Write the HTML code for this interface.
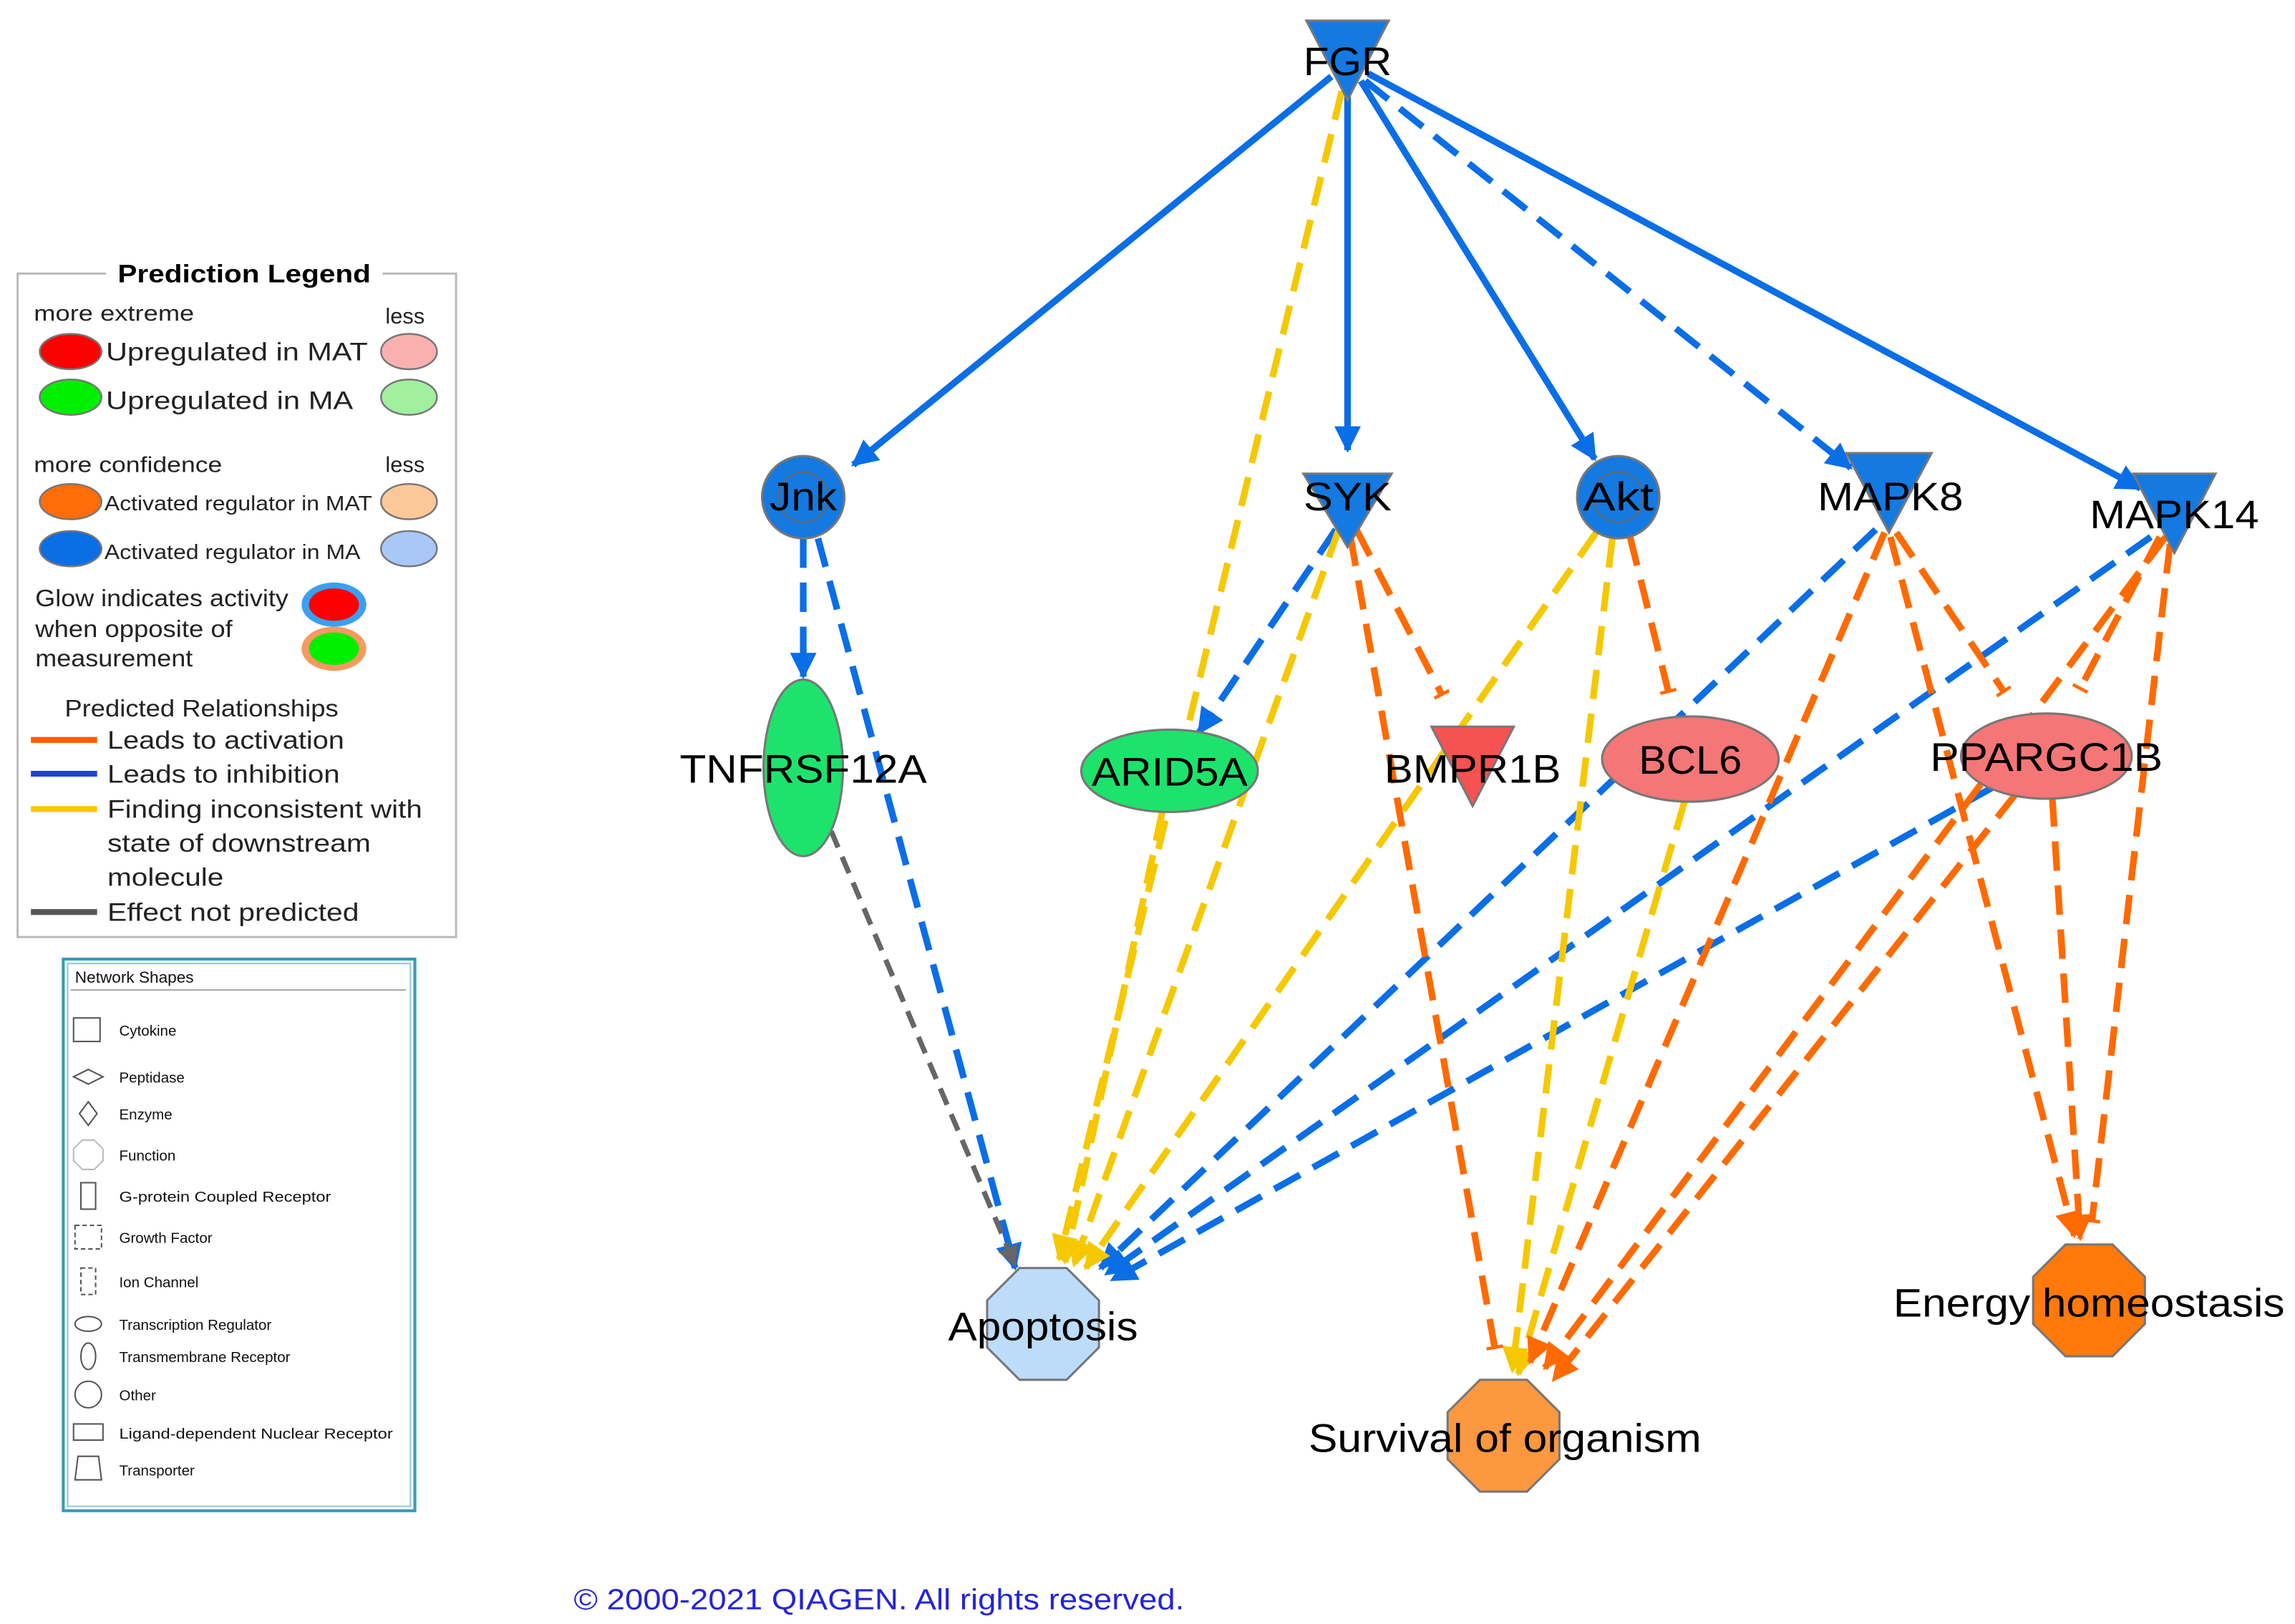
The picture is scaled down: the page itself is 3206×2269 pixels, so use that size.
<!DOCTYPE html>
<html><head><meta charset="utf-8"><style>
html,body{margin:0;padding:0;background:#fff;}
svg{display:block;}
text{font-family:"Liberation Sans",sans-serif;}
</style></head><body>
<svg width="3206" height="2269" viewBox="0 0 1560 1104" preserveAspectRatio="none" xmlns="http://www.w3.org/2000/svg">
<defs>
<marker id="ab" viewBox="0 0 10 10" refX="9" refY="5" markerWidth="4.5" markerHeight="4" orient="auto" markerUnits="strokeWidth"><path d="M0,0L10,5L0,10z" fill="#0a6ee6"/></marker>
<marker id="ao" viewBox="0 0 10 10" refX="9" refY="5" markerWidth="4.5" markerHeight="4" orient="auto" markerUnits="strokeWidth"><path d="M0,0L10,5L0,10z" fill="#ff6a00"/></marker>
<marker id="ay" viewBox="0 0 10 10" refX="9" refY="5" markerWidth="4.5" markerHeight="4" orient="auto" markerUnits="strokeWidth"><path d="M0,0L10,5L0,10z" fill="#f5c800"/></marker>
<marker id="ag" viewBox="0 0 10 10" refX="9" refY="5" markerWidth="4.5" markerHeight="4" orient="auto" markerUnits="strokeWidth"><path d="M0,0L10,5L0,10z" fill="#666"/></marker>
<marker id="to" viewBox="0 0 4 10" refX="2" refY="5" markerWidth="1" markerHeight="4.5" orient="auto" markerUnits="strokeWidth"><path d="M2,0V10" stroke="#ff6a00" stroke-width="2"/></marker>
</defs>

<g fill="none" stroke-width="4.5">
<line x1="905" y1="52" x2="580" y2="316" stroke="#0a6ee6" marker-end="url(#ab)"/>
<line x1="916" y1="55" x2="916" y2="306" stroke="#0a6ee6" marker-end="url(#ab)"/>
<line x1="925" y1="55" x2="1084" y2="312" stroke="#0a6ee6" marker-end="url(#ab)"/>
<line x1="930" y1="50" x2="1455" y2="332" stroke="#0a6ee6" marker-end="url(#ab)"/>
<g stroke="#0a6ee6" stroke-dasharray="20,10">
<line x1="928" y1="55" x2="1258" y2="318" marker-end="url(#ab)"/>
<line x1="546" y1="366" x2="546" y2="460" marker-end="url(#ab)"/>
<line x1="556" y1="366" x2="690" y2="862" marker-end="url(#ab)"/>
<line x1="908" y1="360" x2="815" y2="498" marker-end="url(#ab)"/>
<line x1="1275" y1="360" x2="748" y2="862" marker-end="url(#ab)"/>
<line x1="1462" y1="365" x2="752" y2="866" marker-end="url(#ab)"/>
<line x1="1355" y1="535" x2="756" y2="870" marker-end="url(#ab)"/>
</g>
<line x1="565" y1="565" x2="690" y2="860" stroke="#666" stroke-dasharray="12,7" stroke-width="3.5" marker-end="url(#ag)"/>
<g stroke="#f5c800" stroke-dasharray="20,10">
<line x1="912" y1="62" x2="720" y2="856" marker-end="url(#ay)"/>
<line x1="910" y1="360" x2="730" y2="860" marker-end="url(#ay)"/>
<line x1="790" y1="552" x2="724" y2="858" marker-end="url(#ay)"/>
<line x1="1085" y1="362" x2="738" y2="862" marker-end="url(#ay)"/>
<line x1="1096" y1="366" x2="1028" y2="932" marker-end="url(#ay)"/>
<line x1="1145" y1="545" x2="1032" y2="934" marker-end="url(#ay)"/>
</g>
<g stroke="#ff6a00" stroke-dasharray="20,10">
<line x1="922" y1="360" x2="980" y2="472" marker-end="url(#to)"/>
<line x1="918" y1="365" x2="1016" y2="916" marker-end="url(#to)"/>
<line x1="1108" y1="365" x2="1134" y2="470" marker-end="url(#to)"/>
<line x1="1289" y1="362" x2="1362" y2="470" marker-end="url(#to)"/>
<line x1="1468" y1="365" x2="1414" y2="468" marker-end="url(#to)"/>
<line x1="1281" y1="362" x2="1040" y2="926" marker-end="url(#ao)"/>
<line x1="1285" y1="365" x2="1410" y2="840" marker-end="url(#ao)"/>
<line x1="1472" y1="365" x2="1050" y2="930" marker-end="url(#ao)"/>
<line x1="1475" y1="370" x2="1422" y2="830" marker-end="url(#to)"/>
<line x1="1370" y1="540" x2="1056" y2="938" marker-end="url(#ao)"/>
<line x1="1395" y1="542" x2="1414" y2="842" marker-end="url(#ao)"/>
</g>
</g>

<g stroke="#777" stroke-width="1.5">
<polygon points="888,14 944,14 916,68" fill="#1479e0"/>
<circle cx="546" cy="338" r="28" fill="#1479e0"/>
<circle cx="546" cy="338" r="17" fill="none" stroke="#666" stroke-width="1"/>
<polygon points="886,322 946,322 916,372" fill="#1479e0"/>
<circle cx="1100" cy="338" r="28" fill="#1479e0"/>
<circle cx="1100" cy="338" r="17" fill="none" stroke="#666" stroke-width="1"/>
<polygon points="1255,308 1313,308 1284,362" fill="#1479e0"/>
<polygon points="1450,322 1506,322 1478,376" fill="#1479e0"/>
<ellipse cx="546" cy="522" rx="27" ry="60" fill="#1de36c"/>
<ellipse cx="795" cy="524" rx="60" ry="28" fill="#1de36c"/>
<polygon points="973,494 1029,494 1001,548" fill="#f55252"/>
<ellipse cx="1149" cy="516" rx="60" ry="29" fill="#f57676"/>
<ellipse cx="1391" cy="514" rx="58" ry="29" fill="#f57676"/>
<polygon points="693,862 725,862 747,884 747,916 725,938 693,938 671,916 671,884" fill="#bcdcfa"/>
<polygon points="1006,938 1038,938 1060,960 1060,992 1038,1014 1006,1014 984,992 984,960" fill="#fb9840"/>
<polygon points="1404,846 1436,846 1458,868 1458,900 1436,922 1404,922 1382,900 1382,868" fill="#ff7a0a"/>
</g>
<g font-size="27" fill="#000" text-anchor="middle" lengthAdjust="spacingAndGlyphs">
<text x="916" y="51" textLength="60" lengthAdjust="spacingAndGlyphs">FGR</text>
<text x="546" y="347" textLength="46" lengthAdjust="spacingAndGlyphs">Jnk</text>
<text x="916" y="347" textLength="60" lengthAdjust="spacingAndGlyphs">SYK</text>
<text x="1100" y="347" textLength="48" lengthAdjust="spacingAndGlyphs">Akt</text>
<text x="1285" y="347" textLength="99" lengthAdjust="spacingAndGlyphs">MAPK8</text>
<text x="1478" y="359" textLength="115" lengthAdjust="spacingAndGlyphs">MAPK14</text>
<text x="546" y="532" textLength="168" lengthAdjust="spacingAndGlyphs">TNFRSF12A</text>
<text x="795" y="534" textLength="106" lengthAdjust="spacingAndGlyphs">ARID5A</text>
<text x="1001" y="532" textLength="120" lengthAdjust="spacingAndGlyphs">BMPR1B</text>
<text x="1149" y="526" textLength="70" lengthAdjust="spacingAndGlyphs">BCL6</text>
<text x="1391" y="524" textLength="158" lengthAdjust="spacingAndGlyphs">PPARGC1B</text>
<text x="709" y="911" textLength="129" lengthAdjust="spacingAndGlyphs">Apoptosis</text>
<text x="1023" y="987" textLength="267" lengthAdjust="spacingAndGlyphs">Survival of organism</text>
<text x="1420" y="895" textLength="266" lengthAdjust="spacingAndGlyphs">Energy homeostasis</text>
</g>

<rect x="12" y="186" width="298" height="451" fill="#fff" stroke="#bbb" stroke-width="1.5"/>
<rect x="72" y="176" width="188" height="20" fill="#fff"/>
<text x="166" y="192" font-size="17" font-weight="bold" text-anchor="middle" textLength="172" lengthAdjust="spacingAndGlyphs">Prediction Legend</text>
<g font-size="15" fill="#222">
<text x="23" y="218" textLength="109" lengthAdjust="spacingAndGlyphs">more extreme</text><text x="262" y="220">less</text>
<text x="23" y="321" textLength="128" lengthAdjust="spacingAndGlyphs">more confidence</text><text x="262" y="321">less</text>
</g>
<g stroke="#777" stroke-width="1.2">
<ellipse cx="48" cy="239" rx="21" ry="12" fill="#f00"/>
<ellipse cx="278" cy="239" rx="19" ry="12" fill="#fbb0b0"/>
<ellipse cx="48" cy="270" rx="21" ry="12" fill="#0e0"/>
<ellipse cx="278" cy="270" rx="19" ry="12" fill="#a0f0a0"/>
<ellipse cx="48" cy="341" rx="21" ry="12" fill="#ff6c0a"/>
<ellipse cx="278" cy="341" rx="19" ry="12" fill="#fdc898"/>
<ellipse cx="48" cy="373" rx="21" ry="12" fill="#0a6ee6"/>
<ellipse cx="278" cy="373" rx="19" ry="12" fill="#a9c8f8"/>
</g>
<ellipse cx="227" cy="411" rx="22" ry="15" fill="#3aa0f0"/>
<ellipse cx="227" cy="411" rx="17" ry="11" fill="#f00"/>
<ellipse cx="227" cy="441" rx="22" ry="15" fill="#f59a60"/>
<ellipse cx="227" cy="441" rx="17" ry="11" fill="#0e0"/>
<g font-size="17" fill="#222">
<text x="72" y="245" textLength="178" lengthAdjust="spacingAndGlyphs">Upregulated in MAT</text>
<text x="72" y="278" textLength="168" lengthAdjust="spacingAndGlyphs">Upregulated in MA</text>
</g>
<g font-size="14" fill="#222">
<text x="71" y="347" textLength="182" lengthAdjust="spacingAndGlyphs">Activated regulator in MAT</text>
<text x="71" y="380" textLength="174" lengthAdjust="spacingAndGlyphs">Activated regulator in MA</text>
</g>
<g font-size="16" fill="#222">
<text x="24" y="412" textLength="172" lengthAdjust="spacingAndGlyphs">Glow indicates activity</text>
<text x="24" y="433" textLength="134" lengthAdjust="spacingAndGlyphs">when opposite of</text>
<text x="24" y="453" textLength="107" lengthAdjust="spacingAndGlyphs">measurement</text>
<text x="44" y="487" textLength="186" lengthAdjust="spacingAndGlyphs">Predicted Relationships</text>
</g>
<g stroke-width="4">
<line x1="21" y1="503" x2="66" y2="503" stroke="#ff5a00"/>
<line x1="21" y1="526" x2="66" y2="526" stroke="#2040e0"/>
<line x1="21" y1="550" x2="66" y2="550" stroke="#ffc800"/>
<line x1="21" y1="620" x2="66" y2="620" stroke="#555"/>
</g>
<g font-size="17" fill="#222">
<text x="73" y="509" textLength="161" lengthAdjust="spacingAndGlyphs">Leads to activation</text>
<text x="73" y="532" textLength="158" lengthAdjust="spacingAndGlyphs">Leads to inhibition</text>
<text x="73" y="556" textLength="214" lengthAdjust="spacingAndGlyphs">Finding inconsistent with</text>
<text x="73" y="579" textLength="179" lengthAdjust="spacingAndGlyphs">state of downstream</text>
<text x="73" y="602" textLength="79" lengthAdjust="spacingAndGlyphs">molecule</text>
<text x="73" y="626" textLength="171" lengthAdjust="spacingAndGlyphs">Effect not predicted</text>
</g>

<rect x="43" y="652" width="239" height="375" fill="#fff" stroke="#3a9ab8" stroke-width="2"/>
<rect x="46" y="655" width="233" height="369" fill="none" stroke="#8cc8dc" stroke-width="1"/>
<text x="51" y="668" font-size="11" fill="#111">Network Shapes</text>
<line x1="48" y1="673" x2="276" y2="673" stroke="#aaa" stroke-width="1"/>
<g fill="none" stroke="#555" stroke-width="1">
<rect x="50" y="692" width="18" height="16"/>
<polygon points="50,732 60,727 70,732 60,737"/>
<polygon points="60,749 66,757 60,765 54,757"/>
<polygon points="56,775 64,775 70,781 70,789 64,795 56,795 50,789 50,781" stroke="#bbb"/>
<rect x="55" y="804" width="10" height="18"/>
<rect x="51" y="833" width="18" height="16" stroke-dasharray="3,2"/>
<rect x="55" y="862" width="10" height="18" stroke-dasharray="3,2"/>
<ellipse cx="60" cy="900" rx="9" ry="5"/>
<ellipse cx="60" cy="922" rx="5" ry="9"/>
<circle cx="60" cy="948" r="9"/>
<rect x="50" y="968" width="20" height="11"/>
<polygon points="53,990 67,990 69,1006 51,1006"/>
</g>
<g font-size="10" fill="#111">
<text x="81" y="704">Cytokine</text>
<text x="81" y="736">Peptidase</text>
<text x="81" y="761">Enzyme</text>
<text x="81" y="789">Function</text>
<text x="81" y="817" textLength="144" lengthAdjust="spacingAndGlyphs">G-protein Coupled Receptor</text>
<text x="81" y="845">Growth Factor</text>
<text x="81" y="875">Ion Channel</text>
<text x="81" y="904">Transcription Regulator</text>
<text x="81" y="926">Transmembrane Receptor</text>
<text x="81" y="952">Other</text>
<text x="81" y="978" textLength="186" lengthAdjust="spacingAndGlyphs">Ligand-dependent Nuclear Receptor</text>
<text x="81" y="1003">Transporter</text>
</g>

<text x="390" y="1094" font-size="20" fill="#2424d8" textLength="415" lengthAdjust="spacingAndGlyphs">© 2000-2021 QIAGEN. All rights reserved.</text>
</svg>
</body></html>
